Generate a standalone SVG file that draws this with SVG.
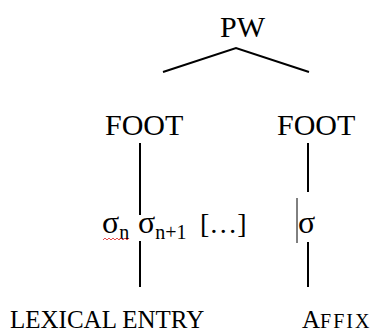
<svg xmlns="http://www.w3.org/2000/svg" width="380" height="333" viewBox="0 0 380 333">
<style>
text{font-family:"Liberation Serif","Times New Roman",serif;fill:#000}
.big{font-size:30px}
.syl{font-size:28px}
.sig{font-size:32px}
.sub{font-size:20px}
.edge{stroke:#000;stroke-width:2;fill:none}
.thin{stroke:#000;stroke-width:1;fill:none}
</style>
<rect width="380" height="333" fill="#fff"/>
<g id="connectors">
<polyline class="edge" points="163,72 236,48 309,72"/>
<line class="edge" x1="140" y1="143" x2="140" y2="215"/>
<line class="edge" x1="140" y1="241" x2="140" y2="287"/>
<line class="edge" x1="308" y1="143" x2="308" y2="192"/>
<line class="edge" x1="308" y1="242" x2="308" y2="287"/>
<line class="thin" x1="297" y1="198" x2="297" y2="243"/>
</g>
<g id="pw"><text class="big" x="220" y="37">PW</text></g>
<g id="foot-left"><text class="big" x="105" y="135">FOOT</text></g>
<g id="foot-right"><text class="big" x="277" y="135">FOOT</text></g>
<g id="syllables-left">
<text class="sig" x="102" y="233">σ<tspan class="sub" dy="6">n</tspan></text>
<polyline points="103,240 105,238 107,240 109,238 111,240 113,238 115,240 117,238 119,240 121,238 123,240 125,238 127,240 129,238" stroke="#e02020" stroke-width="0.8" fill="none"/>
<text class="sig" x="138" y="233">σ<tspan class="sub" dy="6">n+1</tspan></text>
<text class="syl" x="200" y="233">[…]</text>
</g>
<g id="syllable-right"><text class="sig" x="298" y="233">σ</text></g>
<g id="lexical-entry"><text x="10" y="328" font-size="25">LEXICAL ENTRY</text></g>
<g id="affix"><text x="302" y="328" font-size="25">A<tspan font-size="20" letter-spacing="2">FFIX</tspan></text></g>
</svg>
